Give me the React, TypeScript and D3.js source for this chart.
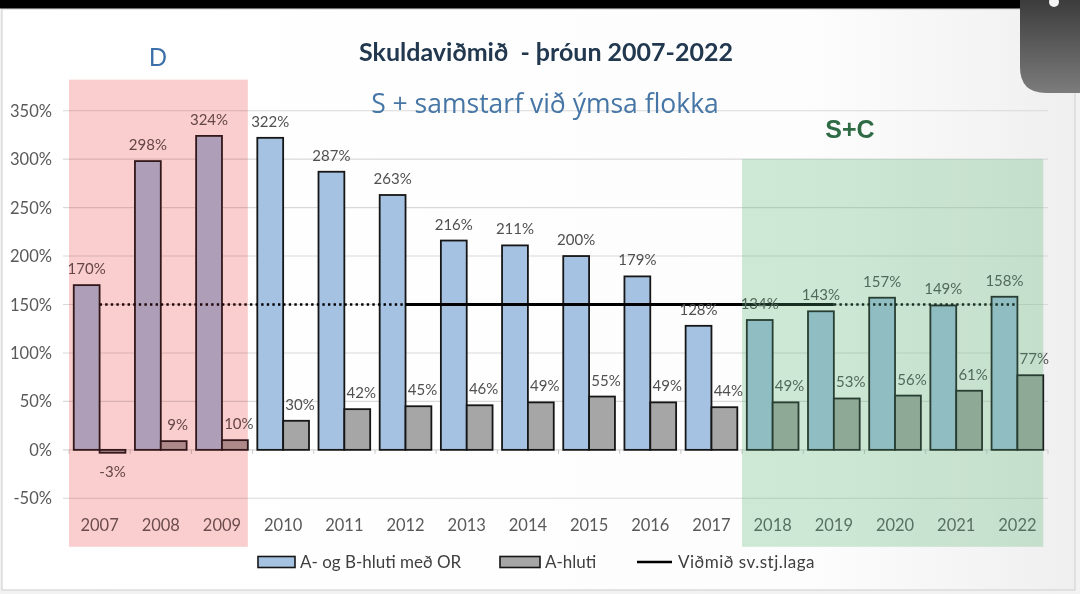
import React from 'react';
import * as d3 from 'd3';

const years = ['2007','2008','2009','2010','2011','2012','2013','2014','2015','2016','2017','2018','2019','2020','2021','2022'];
const abValues = [170, 298, 324, 322, 287, 263, 216, 211, 200, 179, 128, 134, 143, 157, 149, 158];
const aValues = [-3, 9, 10, 30, 42, 45, 46, 49, 55, 49, 44, 49, 53, 56, 61, 77];
const thresholdValues = [150, 150, 150, 150, 150, 150, 150, 150, 150, 150, 150, 150, 150, 150, 150, 150];
const thresholdSegmentStyle = ['dot','dot','dot','dot','dot','solid','solid','solid','solid','solid','solid','solid','dot','dot','dot'];
const yTicks = [-50, 0, 50, 100, 150, 200, 250, 300, 350];
const periods = [
  { label: 'D', from: '2007', to: '2009', top: 382, multiply: '#ffece8', tint: '#dc283c', tintOpacity: 0.15, textColor: '#3b6fa9' },
  { label: 'S+C', from: '2018', to: '2022', top: 300, multiply: '#e5ece2', tint: '#78e6aa', tintOpacity: 0.2, textColor: '#2e6b45' },
];
const legendLabels = ['A- og B-hluti með OR', 'A-hluti', 'Viðmið sv.stj.laga'];

const W = 1080;
const H = 594;
const FONT = 'Lato, "Noto Sans", sans-serif';

export default function App() {
  const x = d3.scaleBand<string>().domain(years).range([69, 1048]).padding(0);
  const step = x.step();
  const gap = 9.5;
  const bw = (step - gap) / 2;
  const y = d3.scaleLinear().domain([-50, 350]).range([498.3, 110.7]);
  const blueX = (yr: string) => (x(yr) as number) + gap / 2;
  const greyX = (yr: string) => (x(yr) as number) + gap / 2 + bw;
  const center = (yr: string) => (x(yr) as number) + step / 2;

  const line = d3.line<number>().x((i) => center(years[i])).y((i) => y(thresholdValues[i]));

  return (
    <svg width={W} height={H} style={{ position: 'fixed', left: 0, top: 0 }} xmlns="http://www.w3.org/2000/svg">
      <defs>
        <linearGradient id="card" x1="0" y1="0" x2="1" y2="0">
          <stop offset="0" stopColor="#ffffff" />
          <stop offset="0.75" stopColor="#fdfdfd" />
          <stop offset="1" stopColor="#efefef" />
        </linearGradient>
        <linearGradient id="tab" x1="0" y1="0" x2="0" y2="1">
          <stop offset="0" stopColor="#3c3c3c" />
          <stop offset="1" stopColor="#7c7c7c" />
        </linearGradient>
      </defs>
      <rect x={0} y={0} width={W} height={H} fill="#f2f2f2" />
      <rect x={2} y={9} width={1073} height={581} fill="url(#card)" stroke="#d4d4d4" strokeWidth={1.2} />
      <rect x={0} y={0} width={W} height={8.5} fill="#000" />
      <path d="M1020,0 H1080 V93 H1046 Q1020,93 1020,67 Z" fill="url(#tab)" />
      <ellipse cx={1054} cy={2} rx={5} ry={5} fill="#f4f4f4" />

      {/* gridlines */}
      {yTicks.map((t) => (
        <line key={'g' + t} x1={63} x2={1048} y1={y(t)} y2={y(t)} stroke="#d9d9d9" strokeWidth={1.1} />
      ))}
      {/* y labels */}
      {yTicks.map((t) => (
        <text key={'yl' + t} x={52} y={y(t) + 6} textAnchor="end" fontFamily={FONT} fontSize={16.5} fill="#595959">
          {t}%
        </text>
      ))}
      {/* category ticks */}
      {years.concat(['end']).map((yr, i) => {
        const xx = 69 + i * step;
        return <line key={'t' + i} x1={xx} x2={xx} y1={y(0)} y2={y(0) + 4} stroke="#c8c8c8" strokeWidth={1} />;
      })}
      {/* bars */}
      {years.map((yr, i) => (
        <g key={'b' + yr}>
          <rect x={blueX(yr)} width={bw} y={y(Math.max(0, abValues[i]))} height={Math.abs(y(abValues[i]) - y(0))}
            fill="#a6c2e2" stroke="#161616" strokeWidth={1.8} />
          <rect x={greyX(yr)} width={bw} y={y(Math.max(0, aValues[i]))} height={Math.abs(y(aValues[i]) - y(0))}
            fill="#a6a6a6" stroke="#161616" strokeWidth={1.8} />
        </g>
      ))}
      {/* threshold line */}
      {thresholdSegmentStyle.map((s, i) => {
        const d = line([i, i + 1]) as string;
        return s === 'solid' ? (
          <path key={'l' + i} d={d} fill="none" stroke="#000" strokeWidth={2.8} />
        ) : (
          <path key={'l' + i} d={d} fill="none" stroke="#000" strokeWidth={2.6} strokeDasharray="2.4 3.2" />
        );
      })}
      {/* labels */}
      {years.map((yr, i) => (
        <g key={'lab' + yr} fontFamily={FONT} fontSize={15} fill="#505050" textAnchor="middle">
          <text x={blueX(yr) + bw / 2} y={y(abValues[i]) - 11}>{abValues[i]}%</text>
          <text x={greyX(yr) + bw / 2 + (aValues[i] < 0 ? 0 : 4)} y={aValues[i] < 0 ? y(aValues[i]) + 24 : y(aValues[i]) - 11}>
            {aValues[i]}%
          </text>
        </g>
      ))}
      {/* x labels */}
      {years.map((yr) => (
        <text key={'xl' + yr} x={center(yr)} y={531} textAnchor="middle" fontFamily={FONT} fontSize={16.5} fill="#595959">
          {yr}
        </text>
      ))}
      {/* period overlays */}
      {periods.map((p) => {
        const px = x(p.from) as number;
        const pw = greyX(p.to) + bw - px;
        const py = y(p.top);
        const ph = y(-100) - y(p.top);
        return (
          <g key={'p' + p.label}>
            <rect x={px} y={py} width={pw} height={ph} fill={p.multiply} style={{ mixBlendMode: 'multiply' }} />
            <rect x={px} y={py} width={pw} height={ph} fill={p.tint} opacity={p.tintOpacity} />
          </g>
        );
      })}
      {/* period labels */}
      <text x={158} y={66} textAnchor="middle" fontFamily='"Liberation Sans", Arial, sans-serif' fontSize={25} fill={periods[0].textColor}>
        {periods[0].label}
      </text>
      <text x={850} y={138} textAnchor="middle" fontFamily='"Liberation Sans", Arial, sans-serif' fontWeight={700} fontSize={25} fill={periods[1].textColor}>
        {periods[1].label}
      </text>
      {/* titles */}
      <text x={546} y={61} textAnchor="middle" fontFamily={FONT} fontWeight={700} fontSize={25} fill="#22384f" xmlSpace="preserve">
        Skuldaviðmið  - þróun 2007-2022
      </text>
      <text x={545} y={113} textAnchor="middle" fontFamily='"Open Sans", sans-serif' fontSize={26.5} fill="#4676a6">
        S + samstarf við ýmsa flokka
      </text>
      {/* legend */}
      <g fontFamily={FONT} fontSize={17} fill="#404040">
        <rect x={258} y={556.5} width={37} height={11} fill="#a6c2e2" stroke="#161616" strokeWidth={1.6} />
        <text x={300} y={568}>{legendLabels[0]}</text>
        <rect x={500} y={556.5} width={40} height={11} fill="#a6a6a6" stroke="#161616" strokeWidth={1.6} />
        <text x={545} y={568}>{legendLabels[1]}</text>
        <line x1={637} x2={672} y1={562} y2={562} stroke="#000" strokeWidth={2.6} />
        <text x={678} y={568} letterSpacing={0.5}>{legendLabels[2]}</text>
      </g>
    </svg>
  );
}
